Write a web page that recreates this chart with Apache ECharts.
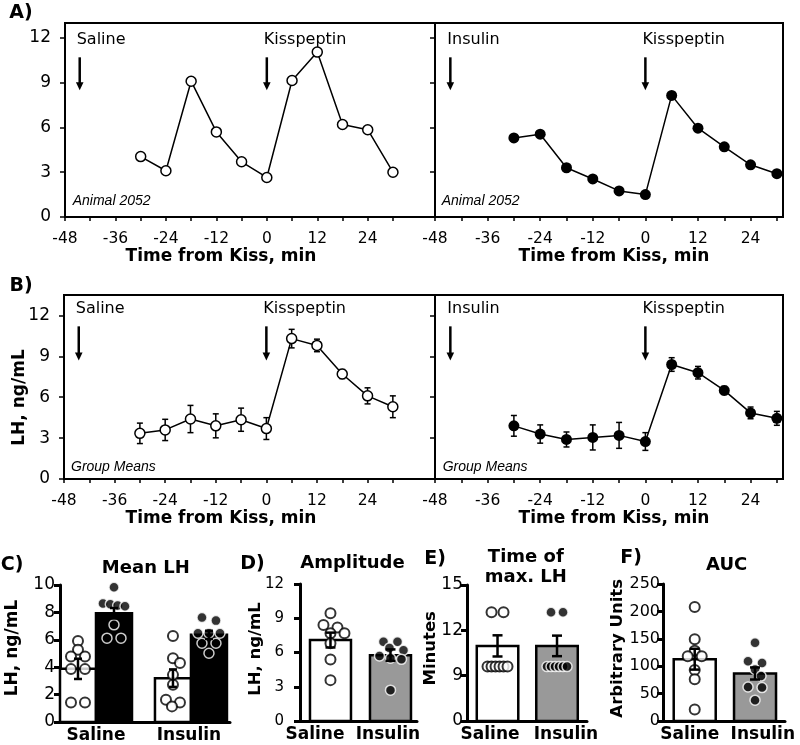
<!DOCTYPE html>
<html><head><meta charset="utf-8">
<script src="https://cdn.jsdelivr.net/npm/echarts@6/dist/echarts.min.js"></script>
<style>html,body{margin:0;padding:0;background:#fff}#main{width:800px;height:745px}</style>
</head><body><div id="main"></div>
<script>
// ---------------- data ----------------
const sampleTimes = [-30,-24,-18,-12,-6,0,6,12,18,24,30];
const animalSaline  = [4.05,3.1,9.1,5.7,3.7,2.65,9.15,11.05,6.2,5.85,3.0];
const animalInsulin = [5.3,5.55,3.3,2.55,1.75,1.5,8.15,5.95,4.7,3.5,2.9];
const groupSalineMean  = [3.35,3.6,4.4,3.9,4.35,3.7,10.3,9.8,7.7,6.1,5.3];
const groupSalineSem   = [0.75,0.78,1.0,0.88,0.85,0.8,0.68,0.46,0.33,0.59,0.8];
const groupInsulinMean = [3.9,3.3,2.9,3.05,3.2,2.75,8.4,7.8,6.5,4.85,4.45];
const groupInsulinSem  = [0.76,0.67,0.55,0.92,0.95,0.65,0.5,0.46,0.3,0.43,0.51];
const injectionTimes = [-44.5, 0];
const timeTicks  = [-48,-42,-36,-30,-24,-18,-12,-6,0,6,12,18,24,30];
const timeLabels = [-48,-36,-24,-12,0,12,24];
const lhTicks = [0,3,6,9,12];

const groups = ['Saline','Insulin'];
// C) Mean LH (white = before kisspeptin, black = after)
const meanLhSalinePre   = [5.92,5.27,4.78,4.78,3.86,3.86,1.43,1.43];
const meanLhSalinePost  = [9.83,8.65,8.6,8.5,8.45,7.09,6.12,6.12];
const meanLhInsulinPre  = [6.28,4.66,4.3,3.44,2.72,1.62,1.43,1.14];
const meanLhInsulinPost = [7.62,7.4,6.48,6.48,6.48,5.75,5.75,5.02];
const meanLhPreBars  = [3.88,3.2];   const meanLhPreSem  = [0.74,0.64];
const meanLhPostBars = [7.94,6.36];  const meanLhPostSem = [0.38,0.3];
const meanLhTicks = [0,2,4,6,8,10];
// D) Amplitude
const ampSaline  = [9.44,8.4,8.2,7.68,7.68,6.8,5.39,3.58];
const ampInsulin = [6.95,6.95,6.4,6.2,5.7,5.5,5.4,2.7];
const ampBars = [7.09,5.77]; const ampSem = [0.65,0.5];
const ampTicks = [0,3,6,9,12];
// E) Time of max LH (broken axis: bottom tick is labelled 0)
const tmaxSaline  = [13.2,13.2,9.6,9.6,9.6,9.6,9.6,9.6];
const tmaxInsulin = [13.2,13.2,9.6,9.6,9.6,9.6,9.6,9.6];
const tmaxBars = [10.97,10.97]; const tmaxSem = [0.7,0.68];
const tmaxTicks = [6,9,12,15]; const tmaxTickLabels = ['0','9','12','15'];
// F) AUC
const aucSaline  = [208,149,128,118,118,93,76,21];
const aucInsulin = [143,109,106,94,82,62,61,38];
const aucBars = [112.8,86.7]; const aucSem = [19,11];
const aucTicks = [0,50,100,150,200,250];

// ---------------- layout ----------------
const FONT = 'DejaVu Sans';
const IFONT = 'Liberation Sans';
const GREY = '#999999';
const chart = echarts.init(document.getElementById('main'));

const grids = [
  {left:65, top:23, width:370, height:194},
  {left:435, top:23, width:348, height:194},
  {left:64, top:295, width:371, height:184},
  {left:435, top:295, width:348, height:184},
  {left:60, top:585, width:170, height:137},
  {left:300, top:584, width:117, height:137},
  {left:467, top:585, width:120, height:136},
  {left:663, top:584, width:122, height:137}
];

function topX(gi, max){
  return {gridIndex:gi, type:'value', min:-48, max:max,
    axisLine:{show:true, onZero:false, lineStyle:{color:'#000', width:2}},
    axisTick:{show:true, customValues:timeTicks, length:4, lineStyle:{color:'#000', width:1.5}},
    axisLabel:{show:true, customValues:timeLabels, color:'#000', fontFamily:FONT, fontSize:15.5, margin:14},
    splitLine:{show:false}};
}
function topY(gi, max, labels){
  return {gridIndex:gi, type:'value', min:0, max:max,
    axisLine:{show:true, onZero:false, lineStyle:{color:'#000', width:2}},
    axisTick:{show:true, customValues:lhTicks, length:5, lineStyle:{color:'#000', width:1.5}},
    axisLabel:{show:labels, customValues:lhTicks, color:'#000', fontFamily:FONT, fontSize:17, margin:14},
    splitLine:{show:false}};
}
function botX(gi, min, max, labelPos){
  return {gridIndex:gi, type:'value', min:min, max:max,
    axisLine:{show:true, onZero:false, lineStyle:{color:'#000', width:3}},
    axisTick:{show:false},
    axisLabel:{customValues:labelPos, formatter:v=>groups[Math.abs(Math.round(v))],
      color:'#000', fontFamily:FONT, fontWeight:'bold', fontSize:17, margin:5},
    splitLine:{show:false}};
}
function botY(gi, min, max, ticks, fmt, fontSize, margin){
  return {gridIndex:gi, type:'value', min:min, max:max,
    axisLine:{show:true, onZero:false, lineStyle:{color:'#000', width:3}},
    axisTick:{show:true, customValues:ticks, length:6, lineStyle:{color:'#000', width:3}},
    axisLabel:{customValues:ticks, formatter:fmt || (v=>String(v)), color:'#000', fontFamily:FONT, fontSize:fontSize, margin:margin},
    splitLine:{show:false}};
}

const openItem = {color:'#fff', borderColor:'#000', borderWidth:1.5};
const fillItem = {color:'#000', borderColor:'#000', borderWidth:0};

function lineSeries(id, gi, vals, filled){
  return {id:id, type:'line', xAxisIndex:gi, yAxisIndex:gi, z:3,
    data: sampleTimes.map((t,i)=>[t, vals[i]]),
    symbol:'circle', symbolSize: filled ? 11 : 10, showSymbol:true,
    itemStyle: filled ? fillItem : openItem,
    lineStyle:{color:'#000', width:1.5}, emphasis:{disabled:true}, silent:true};
}
function errSeries(id, gi, xs, means, sems, offPx, cap, lw, z){
  return {id:id, type:'custom', xAxisIndex:gi, yAxisIndex:gi, z:z, silent:true,
    data: means.map((m,i)=>[xs[i], m, sems[i]]),
    renderItem:function(params, api){
      const x=api.value(0), m=api.value(1), s=api.value(2);
      const p1=api.coord([x,m+s]), p2=api.coord([x,m-s]);
      const cx=p1[0]+offPx;
      const st={stroke:'#000', lineWidth:lw};
      return {type:'group', children:[
        {type:'line', shape:{x1:cx,y1:p1[1],x2:cx,y2:p2[1]}, style:st},
        {type:'line', shape:{x1:cx-cap/2,y1:p1[1],x2:cx+cap/2,y2:p1[1]}, style:st},
        {type:'line', shape:{x1:cx-cap/2,y1:p2[1],x2:cx+cap/2,y2:p2[1]}, style:st}]};
    }};
}
function barSeries(id, gi, means, offPx, widthPx, fills, base){
  return {id:id, type:'custom', xAxisIndex:gi, yAxisIndex:gi, z:1, silent:true,
    data: means.map((m,i)=>[i, m]),
    renderItem:function(params, api){
      const g=api.value(0), m=api.value(1);
      const top=api.coord([g,m]), bot=api.coord([g,base]);
      const cx=top[0]+offPx;
      return {type:'rect', shape:{x:cx-widthPx/2, y:top[1], width:widthPx, height:bot[1]-top[1]},
        style:{fill:fills[params.dataIndex], stroke:'#000', lineWidth:2.5}};
    }};
}
const dotOpen = {color:'#fff', borderColor:'#000', borderWidth:2};
const dotFill = {color:'#000', borderColor:'#fff', borderWidth:1.5};
function dotSeries(id, gi, style){
  return {id:id, type:'scatter', xAxisIndex:gi, yAxisIndex:gi, z:2, data:[], symbol:'circle', symbolSize:10,
    itemStyle:style, silent:true, clip:false, emphasis:{disabled:true}};
}

const option = {
  animation:false, backgroundColor:'#fff',
  grid: grids.map((g,i)=>Object.assign({}, g, i<4 ? {show:true, borderColor:'#000', borderWidth:2, backgroundColor:'transparent'} : {show:false})),
  xAxis:[topX(0,40), topX(1,31.4), topX(2,40), topX(3,31.4),
    botX(4,-0.379,1.411,[0,0.979]), botX(5,-0.508,1.442,[-0.258,0.958]),
    botX(6,-0.513,1.504,[-0.126,1.151]), botX(7,-0.526,1.497,[-0.083,1.129])],
  yAxis:[topY(0,13,true), topY(1,13,false), topY(2,13.5,true), topY(3,13.5,false),
    botY(4,0,10,meanLhTicks,null,17,5), botY(5,0,12,ampTicks,null,15,16),
    botY(6,6,15,tmaxTicks,v=>tmaxTickLabels[tmaxTicks.indexOf(v)],17,4), botY(7,0,250,aucTicks,null,16,3)],
  series:[
    lineSeries('aS',0,animalSaline,false),
    lineSeries('aI',1,animalInsulin,true),
    errSeries('bSe',2,sampleTimes,groupSalineMean,groupSalineSem,0,6,1.5,1),
    lineSeries('bS',2,groupSalineMean,false),
    errSeries('bIe',3,sampleTimes,groupInsulinMean,groupInsulinSem,0,6,1.5,1),
    lineSeries('bI',3,groupInsulinMean,true),
    barSeries('cPre',4,meanLhPreBars,-18,36,['#fff','#fff'],0),
    barSeries('cPost',4,meanLhPostBars,18,36,['#000','#000'],0),
    dotSeries('dC0',4,dotOpen), dotSeries('dC1',4,dotFill), dotSeries('dC2',4,dotOpen), dotSeries('dC3',4,dotFill),
    errSeries('cPreE',4,[0,1],meanLhPreBars,meanLhPreSem,-18,8,2.5,4),
    errSeries('cPostE',4,[0,1],meanLhPostBars,meanLhPostSem,18,8,2.5,4),
    barSeries('dBar',5,ampBars,0,41,['#fff',GREY],0),
    dotSeries('dD0',5,dotOpen), dotSeries('dD1',5,dotFill),
    errSeries('dE',5,[0,1],ampBars,ampSem,0,10,2.5,4),
    barSeries('eBar',6,tmaxBars,0,41.5,['#fff',GREY],6),
    dotSeries('dE0',6,dotOpen), dotSeries('dE1',6,dotFill),
    errSeries('eE',6,[0,1],tmaxBars,tmaxSem,0,10,2.5,4),
    barSeries('fBar',7,aucBars,0,42,['#fff',GREY],0),
    dotSeries('dF0',7,dotOpen), dotSeries('dF1',7,dotFill),
    errSeries('fE',7,[0,1],aucBars,aucSem,0,10,2.5,4)
  ]
};
chart.setOption(option);

// ---------- scatter-dot swarm layout (pixel space, via the axes' scales) ----------
function swarm(gi, gx, offPx, values, cfg){
  const cx = chart.convertToPixel({gridIndex:gi},[gx, values[0]])[0] + offPx;
  const pts = values.map(v=>({v:v, y:chart.convertToPixel({gridIndex:gi},[gx, v])[1]}));
  pts.sort((a,b)=>a.y-b.y);
  const rows=[];
  pts.forEach(p=>{ const r=rows[rows.length-1]; if(r && p.y-r[0].y < cfg.tol) r.push(p); else rows.push([p]); });
  const placed=[], out=[];
  rows.forEach(r=>{
    const n=r.length; const sp = n>1 ? Math.min(cfg.gap, cfg.span/(n-1)) : 0;
    const offs = r.map((p,i)=>(i-(n-1)/2)*sp);
    let best=0;
    for(let k=0;k<=40;k++){
      const s = k===0 ? 0 : (k%2===1 ? (k+1)/2 : -k/2);
      let ok=true;
      for(let i=0;i<n && ok;i++){
        for(const q of placed){ const dx=cx+offs[i]+s-q[0], dy=r[i].y-q[1]; if(Math.sqrt(dx*dx+dy*dy)<cfg.d){ok=false;break;} }
      }
      if(ok){best=s;break;}
    }
    r.forEach((p,i)=>{ const px=cx+offs[i]+best; placed.push([px,p.y]);
      out.push([chart.convertFromPixel({gridIndex:gi},[px,p.y])[0], p.v]); });
  });
  return out;
}
const cfgN = {tol:4, gap:14, span:22, d:8.5};
const cfgE = {tol:4, gap:12, span:20, d:0};
const dotUpdates = [
  {id:'dC0', data:swarm(4,0,-18,meanLhSalinePre,cfgN)},
  {id:'dC1', data:swarm(4,0,18,meanLhSalinePost,cfgN)},
  {id:'dC2', data:swarm(4,1,-18,meanLhInsulinPre,cfgN)},
  {id:'dC3', data:swarm(4,1,18,meanLhInsulinPost,cfgN)},
  {id:'dD0', data:swarm(5,0,0,ampSaline,cfgN)},
  {id:'dD1', data:swarm(5,1,0,ampInsulin,cfgN)},
  {id:'dE0', data:swarm(6,0,0,tmaxSaline,cfgE)},
  {id:'dE1', data:swarm(6,1,0,tmaxInsulin,cfgE)},
  {id:'dF0', data:swarm(7,0,0,aucSaline,cfgN)},
  {id:'dF1', data:swarm(7,1,0,aucInsulin,cfgN)}
];

// ---------- annotations ----------
const G = [];
function txt(text, x, y, o){
  o = o || {};
  G.push({type:'text', x:x, y:y, rotation:o.rot||0, silent:true, z:10,
    style:{text:text, fill:'#000', fontFamily:o.family||FONT, fontSize:o.size||17, fontWeight:o.weight||'normal',
      fontStyle:o.style||'normal', align:o.align||'center', verticalAlign:'middle'}});
}
const injLabels = [['Saline','Kisspeptin'],['Insulin','Kisspeptin'],['Saline','Kisspeptin'],['Insulin','Kisspeptin']];
const arrowSpan = [[10.7,8.5],[10.7,8.5],[11.2,8.7],[11.2,8.7]];
for(let gi=0; gi<4; gi++){
  injectionTimes.forEach((t,j)=>{
    const p1 = chart.convertToPixel({gridIndex:gi},[t, arrowSpan[gi][0]]);
    const p2 = chart.convertToPixel({gridIndex:gi},[t, arrowSpan[gi][1]]);
    G.push({type:'line', silent:true, z:10, shape:{x1:p1[0],y1:p1[1],x2:p2[0],y2:p2[1]-6}, style:{stroke:'#000', lineWidth:2.5}});
    G.push({type:'polygon', silent:true, z:10, shape:{points:[[p2[0]-3.8,p2[1]-8],[p2[0]+3.8,p2[1]-8],[p2[0],p2[1]]]}, style:{fill:'#000'}});
    txt(injLabels[gi][j], p1[0]-3, p1[1]-17.5, {size:16, align:'left'});
  });
}
txt('Animal 2052', 72.7, 201, {family:IFONT, style:'italic', size:14, align:'left'});
txt('Animal 2052', 441.7, 201, {family:IFONT, style:'italic', size:14, align:'left'});
txt('Group Means', 71, 467, {family:IFONT, style:'italic', size:14, align:'left'});
txt('Group Means', 442.7, 467, {family:IFONT, style:'italic', size:14, align:'left'});
// axis titles
txt('Time from Kiss, min', 221, 257, {weight:'bold'});
txt('Time from Kiss, min', 614, 257, {weight:'bold'});
txt('Time from Kiss, min', 221, 519, {weight:'bold'});
txt('Time from Kiss, min', 614, 519, {weight:'bold'});
txt('LH, ng/mL', 19.5, 397.5, {weight:'bold', rot:Math.PI/2});
txt('LH, ng/mL', 13, 648, {weight:'bold', rot:Math.PI/2});
txt('LH, ng/mL', 256, 649, {weight:'bold', rot:Math.PI/2, size:16.5});
txt('Minutes', 431, 648.3, {weight:'bold', rot:Math.PI/2, size:16.5});
txt('Arbitrary Units', 617.7, 648.3, {weight:'bold', rot:Math.PI/2, size:16.5});
// panel letters and titles
[['A)',21,13],['B)',21,286],['C)',12,565],['D)',252.5,564],['E)',435,559],['F)',631,558]].forEach(a=>txt(a[0],a[1],a[2],{weight:'bold', size:19}));
txt('Mean LH', 145.8, 568, {weight:'bold', size:18});
txt('Amplitude', 352.5, 563, {weight:'bold', size:18});
txt('Time of', 525.8, 557.5, {weight:'bold', size:18});
txt('max. LH', 525.8, 577.5, {weight:'bold', size:18});
txt('AUC', 726.7, 565.7, {weight:'bold', size:18});

chart.setOption({series:dotUpdates, graphic:{elements:G}});
</script>
</body></html>
